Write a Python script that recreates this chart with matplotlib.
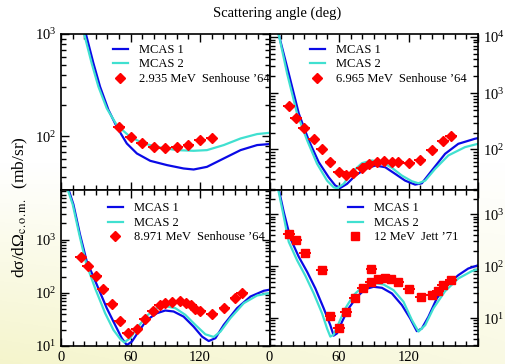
import numpy as np
import matplotlib.pyplot as plt
from matplotlib.lines import Line2D
from matplotlib.ticker import LogLocator, MultipleLocator, NullFormatter, LogFormatterMathtext

plt.rcParams['font.family'] = ['Liberation Serif', 'DejaVu Serif']
plt.rcParams['mathtext.fontset'] = 'stix'

BLUE = '#0a0ae6'
CYAN = '#40e0d0'
RED = '#ff0000'

# ---- 2.935 MeV ----
th_a_m1 = [18, 21.5, 28, 33.7, 41, 48.2, 56.8, 65.5, 77, 91.5, 105.8, 114.5, 126, 140.5, 155, 169.3, 180]
xs_a_m1 = [1600, 1000, 516, 305, 180, 123, 84.7, 67.6, 57.3, 52, 48.2, 47.1, 50, 60.4, 72.9, 81.7, 83.6]
th_a_m2 = [17, 20, 26.5, 32.3, 39.5, 48.2, 59.7, 71.2, 85.7, 100.1, 114.5, 126, 140.5, 155, 169.3, 180]
xs_a_m2 = [1600, 1000, 516, 305, 187, 128, 98.4, 84.7, 77.4, 72.9, 71.8, 72.9, 81.7, 94.8, 104.7, 107.7]
th_a_exp = [50, 60, 70, 80, 90, 100, 110, 120, 130]
xs_a_exp = [123, 98.4, 86, 77.4, 76.8, 77.4, 82.2, 91.4, 96]

# ---- 6.965 MeV ----
th_b_m1 = [5, 8, 16.6, 25.3, 33.9, 42.5, 51.1, 56.8, 61.1, 66.9, 74.1, 82.7, 91.3, 99.9, 108.5,
           117.1, 125.7, 131.5, 140.1, 151.6, 163, 177.4, 180]
xs_b_m1 = [30000, 11000, 2245, 434, 145, 59.4, 32, 22.8, 20.7, 24.4, 34.3, 45.2, 51.8, 48.3, 36.8,
           27.9, 23.7, 25, 42.1, 83.7, 126, 155, 159]
th_b_m2 = [5, 8, 15.2, 23.8, 32.5, 41.1, 49.7, 55.4, 58.3, 64, 71.2, 79.8, 88.4, 97.1, 105.7,
           114.3, 122.9, 128.6, 134.4, 143, 154.4, 168.8, 180]
xs_b_m2 = [30000, 11000, 2245, 434, 145, 55.5, 27.9, 21.2, 20.4, 24.4, 39.4, 57, 63.6, 59.4, 47.1,
           34.3, 27.2, 25, 27.9, 45.2, 78.2, 110, 126]
th_b_exp = [17, 23, 30, 38, 45, 52.5, 60, 66, 72.5, 80, 86, 92.5, 99, 105.5, 111, 120.5, 130, 140.5, 150, 156.5]
xs_b_exp = [586, 368, 244, 155, 101, 61, 39.4, 35.8, 38.8, 46.3, 54, 60.3, 63.6, 61, 58.7, 57.8, 65.4, 98.8, 139, 171]

# ---- 8.971 MeV ----
th_c_m1 = [4, 6.3, 10.7, 16.4, 22.2, 30.9, 39.5, 46.7, 52.5, 56.8, 61.2, 66.9, 74.2, 82.8, 90, 97.2,
           105.8, 114.5, 121.8, 127.5, 133.3, 140.5, 152, 163.6, 175.1, 180]
xs_c_m1 = [20000, 9000, 4570, 1242, 390, 142, 51.4, 24.9, 14, 10.4, 12.1, 18.6, 31, 41.3, 46.4, 44.5,
           35.7, 23.1, 15, 12.4, 14, 24.9, 51.4, 85, 109, 114]
th_c_m2 = [4, 5.5, 10.1, 15.8, 21.6, 29.4, 38.1, 45.3, 51.1, 54.5, 59.7, 65.5, 74.2, 82.8, 90, 98.7,
           107.3, 116, 124.6, 131.8, 137.6, 146.2, 157.8, 169.3, 180]
xs_c_m2 = [20000, 9000, 4570, 1242, 363, 122, 41.3, 20, 13.6, 11.7, 14, 21.5, 37.3, 51.4, 56, 51.4,
           38.5, 24.9, 16.6, 14.8, 18.6, 33.3, 63.8, 88.9, 98.6]
th_c_exp = [17, 23, 30, 36.5, 44, 51, 58, 65.5, 72.5, 79, 85.5, 90, 96, 103, 108, 112, 116, 120,
            130.5, 141, 150.5, 156.5]
xs_c_exp = [463, 323, 203, 117, 62, 29.6, 17.3, 20.9, 31.9, 44.5, 57.7, 62.9, 67.6, 68.6, 65, 58,
            50, 44.5, 39.6, 52.8, 79.4, 98.6]

# ---- 12 MeV ----
th_d_m1 = [5, 8, 12.3, 18.1, 25.3, 32.5, 39.6, 46.8, 52.5, 55.4, 58.3, 62.6, 68.3, 75.5, 82.7, 89.8,
           97.1, 105.7, 114.3, 121.4, 127.2, 131.5, 137.2, 144.4, 153, 163, 171.6, 180]
xs_d_m1 = [10000, 3000, 1107, 341, 151, 77.8, 37.2, 15.4, 7.3, 4.6, 5.07, 8.5, 15.4, 25.7, 36.1, 40.1,
           38.3, 29.8, 17.8, 9.9, 5.6, 6.3, 10.6, 23.9, 43.1, 67.1, 90.2, 104]
th_d_m2 = [5, 7.5, 11.5, 16.6, 23.8, 31, 38.2, 45.4, 49.7, 52.5, 55.4, 59.7, 65.5, 72.6, 81.2, 89.8,
           98.4, 107.1, 115.7, 122.9, 128.6, 134.4, 141.5, 151.6, 163, 174.6, 180]
xs_d_m2 = [10000, 3000, 1107, 294, 130, 65.1, 29.8, 12.3, 6.3, 4.4, 4.8, 7.9, 15.4, 27.7, 41.9, 47.8,
           44.4, 34.5, 20.6, 9.2, 5.5, 7.3, 15.4, 33, 57.9, 80.2, 87.5]
th_d_exp = [17, 23, 30.5, 45.5, 52.5, 60, 66, 73.5, 80.5, 87.5, 88, 93.5, 100, 105, 111, 120.5,
            130.5, 140.5, 145.5, 150, 156.5]
xs_d_exp = [426, 316, 180, 83.8, 10.9, 6.5, 13.2, 24.6, 38.3, 50, 90.2, 55.5, 57.9, 55.5, 50, 35.6,
            25.7, 27.7, 33, 43.1, 53.8]

ANG_ERR = 5  # angular bin half-width (deg)

fig = plt.figure(figsize=(5.06, 3.64), dpi=100)

# pale slide background, creamy towards the lower left
bg = fig.add_axes([0, 0, 1, 1], zorder=-10)
yy, xx = np.mgrid[0:1:200j, 0:1:200j]
w = np.clip((yy - 0.45) / 0.55, 0, 1) * (1 - 0.45 * xx)
cream = np.array([0.96, 0.96, 0.80])
bg.imshow(1 - w[..., None] * (1 - cream), aspect='auto', extent=[0, 1, 0, 1])
bg.axis('off')

L, M, R = 61 / 506, 269.5 / 506, 478 / 506
T, C, B = 1 - 34 / 364, 1 - 189.5 / 364, 1 - 346 / 364


def panel(rect, ylim, right, bottom):
    ax = fig.add_axes(rect)
    ax.set_facecolor('white')
    ax.set_yscale('log')
    ax.set_xlim(0, 180)
    ax.set_ylim(*ylim)
    ax.set_xticks([0, 60, 120, 180])
    ax.set_xticklabels(['0', '60', '120', ''])
    ax.xaxis.set_minor_locator(MultipleLocator(10))
    ax.yaxis.set_major_locator(LogLocator(10))
    ax.yaxis.set_major_formatter(LogFormatterMathtext())
    ax.yaxis.set_minor_locator(LogLocator(10, subs=np.arange(2, 10)))
    ax.yaxis.set_minor_formatter(NullFormatter())
    ax.tick_params(which='both', direction='in', top=True, right=True, width=1,
                   labelsize=10.5, labelbottom=bottom, labelleft=not right, labelright=right)
    ax.tick_params(which='major', length=6)
    ax.tick_params(which='minor', length=3.5)
    for s in ax.spines.values():
        s.set_linewidth(1.2)
    return ax


def draw(ax, m1, m2, exp, marker, ms, label, anchor):
    ax.plot(m1[0], m1[1], color=BLUE, lw=1.6)
    ax.plot(m2[0], m2[1], color=CYAN, lw=1.6)
    ax.errorbar(exp[0], exp[1], xerr=ANG_ERR, fmt=marker, ms=ms, color=RED,
                elinewidth=1.4, capsize=0, zorder=5)
    handles = [Line2D([], [], color=BLUE, lw=1.6),
               Line2D([], [], color=CYAN, lw=1.6),
               Line2D([], [], color=RED, marker=marker, ms=ms, ls='none')]
    ax.legend(handles, ['MCAS 1', 'MCAS 2', label], loc='upper left', bbox_to_anchor=anchor,
              frameon=False, fontsize=9, handlelength=1.2, handletextpad=0.9,
              labelspacing=0.2, borderpad=0, borderaxespad=0)


ax_a = panel([L, C, M - L, T - C], (30, 1000), False, False)
ax_b = panel([M, C, R - M, T - C], (19.4, 11300), True, False)
ax_c = panel([L, B, M - L, C - B], (10, 8700), False, True)
ax_d = panel([M, B, R - M, C - B], (2.9, 3000), True, True)

draw(ax_a, (th_a_m1, xs_a_m1), (th_a_m2, xs_a_m2), (th_a_exp, xs_a_exp), 'D', 4.8,
     '2.935 MeV  Senhouse \u201964', (0.249, 0.936))
draw(ax_b, (th_b_m1, xs_b_m1), (th_b_m2, xs_b_m2), (th_b_exp, xs_b_exp), 'D', 4.8,
     '6.965 MeV  Senhouse \u201964', (0.194, 0.936))
draw(ax_c, (th_c_m1, xs_c_m1), (th_c_m2, xs_c_m2), (th_c_exp, xs_c_exp), 'D', 4.8,
     '8.971 MeV  Senhouse \u201964', (0.225, 0.917))
draw(ax_d, (th_d_m1, xs_d_m1), (th_d_m2, xs_d_m2), (th_d_exp, xs_d_exp), 's', 5.8,
     '12 MeV  Jett \u201971', (0.376, 0.917))

fig.text(277 / 506, 1 - 13 / 364, 'Scattering angle (deg)', ha='center', va='center', fontsize=10.5)
fig.text(20 / 506, 1 - 207 / 364, 'd\u03c3/d\u03a9$_{\\rm c.o.m.}$  (mb/sr)', rotation=90,
         ha='center', va='center', fontsize=12.5)

fig.savefig('out.png', dpi=100)
